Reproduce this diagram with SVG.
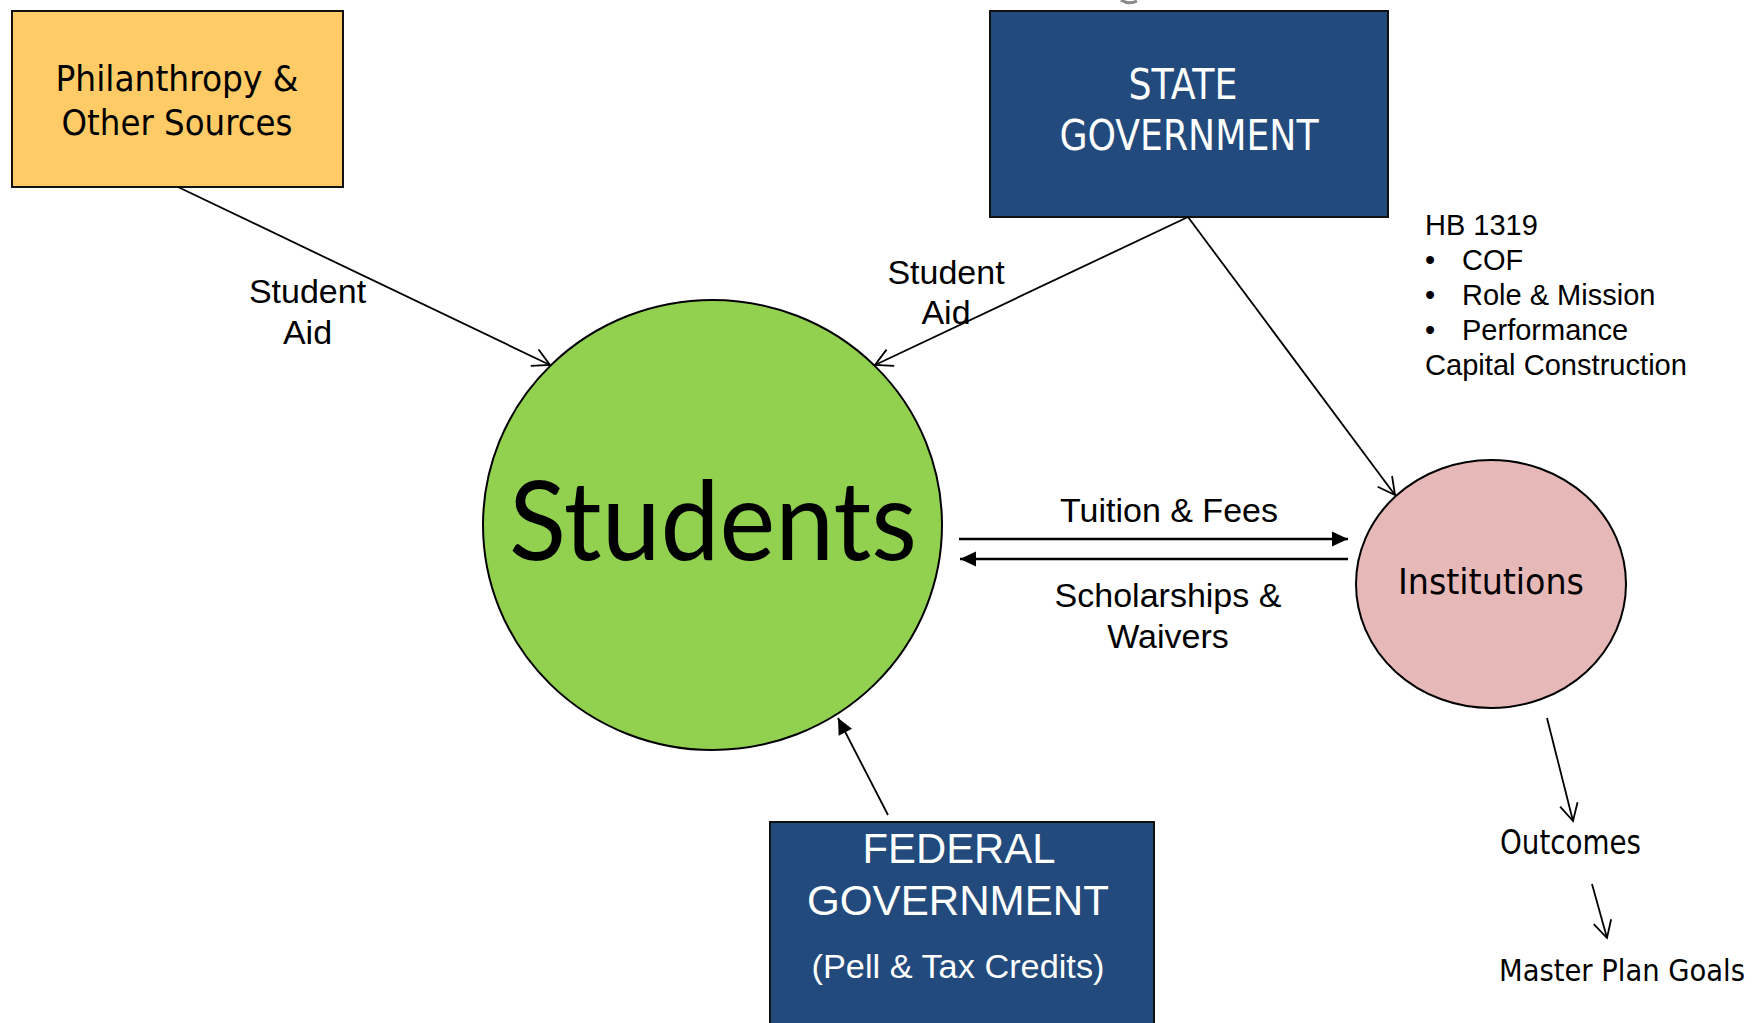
<svg xmlns="http://www.w3.org/2000/svg" width="1760" height="1023" viewBox="0 0 1760 1023">
<style>
.box{stroke:#111;stroke-width:2}
.navy{fill:#224A7C}
.tah{font-family:"DejaVu Sans Condensed","DejaVu Sans",sans-serif;font-stretch:condensed}
.ar{font-family:"Liberation Sans",Arial,sans-serif}
.conn{fill:none;stroke:#000;stroke-width:1.8}
.thick{stroke-width:2.6}
</style>
<defs>
<marker id="open" markerUnits="userSpaceOnUse" viewBox="-20 -11 22 22" markerWidth="22" markerHeight="22" refX="0" refY="0" orient="auto">
<path d="M-17,-9 L0,0 L-17,9" fill="none" stroke="#000" stroke-width="1.8"/>
</marker>
<marker id="solid" markerUnits="userSpaceOnUse" viewBox="-18 -9 19 18" markerWidth="19" markerHeight="18" refX="0" refY="0" orient="auto">
<path d="M-16,-7.5 L0,0 L-16,7.5 Z" fill="#000"/>
</marker>
</defs>
<rect width="1760" height="1023" fill="#fff"/>
<path d="M1121,0 Q1129,5 1137,1" fill="none" stroke="#888" stroke-width="3"/>

<g id="philanthropy">
<rect class="box" x="12" y="11" width="331" height="176" fill="#FECB66"/>
<text class="tah" x="177" y="91" font-size="36" text-anchor="middle" textLength="243" lengthAdjust="spacingAndGlyphs">Philanthropy &amp;</text>
<text class="tah" x="177" y="135" font-size="36" text-anchor="middle" textLength="231" lengthAdjust="spacingAndGlyphs">Other Sources</text>
</g>

<g id="state">
<rect class="box navy" x="990" y="11" width="398" height="206"/>
<text class="tah" x="1183" y="99" font-size="42" fill="#fff" text-anchor="middle" textLength="109" lengthAdjust="spacingAndGlyphs">STATE</text>
<text class="tah" x="1189" y="150" font-size="42" fill="#fff" text-anchor="middle" textLength="259" lengthAdjust="spacingAndGlyphs">GOVERNMENT</text>
</g>

<g id="hb1319">
<text class="ar" font-size="29" x="1425" y="235">HB 1319</text>
<text class="ar" font-size="29" x="1425" y="270">•</text>
<text class="ar" font-size="29" x="1462" y="270">COF</text>
<text class="ar" font-size="29" x="1425" y="305">•</text>
<text class="ar" font-size="29" x="1462" y="305">Role &amp; Mission</text>
<text class="ar" font-size="29" x="1425" y="340">•</text>
<text class="ar" font-size="29" x="1462" y="340">Performance</text>
<text class="ar" font-size="29" x="1425" y="375" textLength="262" lengthAdjust="spacingAndGlyphs">Capital Construction</text>
</g>

<g id="students">
<ellipse cx="712.5" cy="525" rx="229.5" ry="225" fill="#92D050" stroke="#000" stroke-width="2"/>
<text x="713" y="560" font-family="Lato,'Open Sans',sans-serif" font-size="110" text-anchor="middle" textLength="408" lengthAdjust="spacingAndGlyphs">Students</text>
</g>

<g id="institutions">
<ellipse cx="1491" cy="584" rx="135" ry="124" fill="#E6B8B7" stroke="#000" stroke-width="2"/>
<text class="tah" x="1491" y="594" font-size="35" text-anchor="middle" textLength="186" lengthAdjust="spacingAndGlyphs">Institutions</text>
</g>

<g id="federal">
<rect class="box navy" x="770" y="822" width="384" height="215"/>
<text class="ar" x="959" y="863" font-size="42" fill="#fff" text-anchor="middle" textLength="193" lengthAdjust="spacingAndGlyphs">FEDERAL</text>
<text class="ar" x="958" y="915" font-size="42" fill="#fff" text-anchor="middle" textLength="302" lengthAdjust="spacingAndGlyphs">GOVERNMENT</text>
<text class="ar" x="958" y="978" font-size="34" fill="#fff" text-anchor="middle" textLength="293" lengthAdjust="spacingAndGlyphs">(Pell &amp; Tax Credits)</text>
</g>

<g id="outcomes">
<text class="tah" x="1500" y="854" font-size="34" textLength="141" lengthAdjust="spacingAndGlyphs">Outcomes</text>
</g>

<g id="master-plan-goals">
<text class="tah" x="1499" y="981" font-size="30" textLength="246" lengthAdjust="spacingAndGlyphs">Master Plan Goals</text>
</g>

<g id="connectors">
<line class="conn" x1="178" y1="187" x2="550" y2="365" marker-end="url(#open)"/>
<line class="conn" x1="1188" y1="217" x2="875" y2="365" marker-end="url(#open)"/>
<line class="conn" x1="1188" y1="217" x2="1395" y2="495" marker-end="url(#open)"/>
<line class="conn thick" x1="959" y1="539" x2="1348" y2="539" marker-end="url(#solid)"/>
<line class="conn thick" x1="1348" y1="559" x2="960" y2="559" marker-end="url(#solid)"/>
<line class="conn" x1="888" y1="815" x2="838" y2="718" marker-end="url(#solid)"/>
<line class="conn" x1="1547" y1="718" x2="1573" y2="821" marker-end="url(#open)"/>
<line class="conn" x1="1592" y1="884" x2="1607" y2="938" marker-end="url(#open)"/>
<text class="ar" x="307.5" y="303" font-size="34" text-anchor="middle">Student</text>
<text class="ar" x="307.5" y="344" font-size="34" text-anchor="middle">Aid</text>
<text class="ar" x="946" y="284" font-size="34" text-anchor="middle">Student</text>
<text class="ar" x="946" y="324" font-size="34" text-anchor="middle">Aid</text>
<text class="ar" x="1169" y="522" font-size="34" text-anchor="middle">Tuition &amp; Fees</text>
<text class="ar" x="1168" y="607" font-size="34" text-anchor="middle">Scholarships &amp;</text>
<text class="ar" x="1168" y="648" font-size="34" text-anchor="middle">Waivers</text>
</g>
</svg>
